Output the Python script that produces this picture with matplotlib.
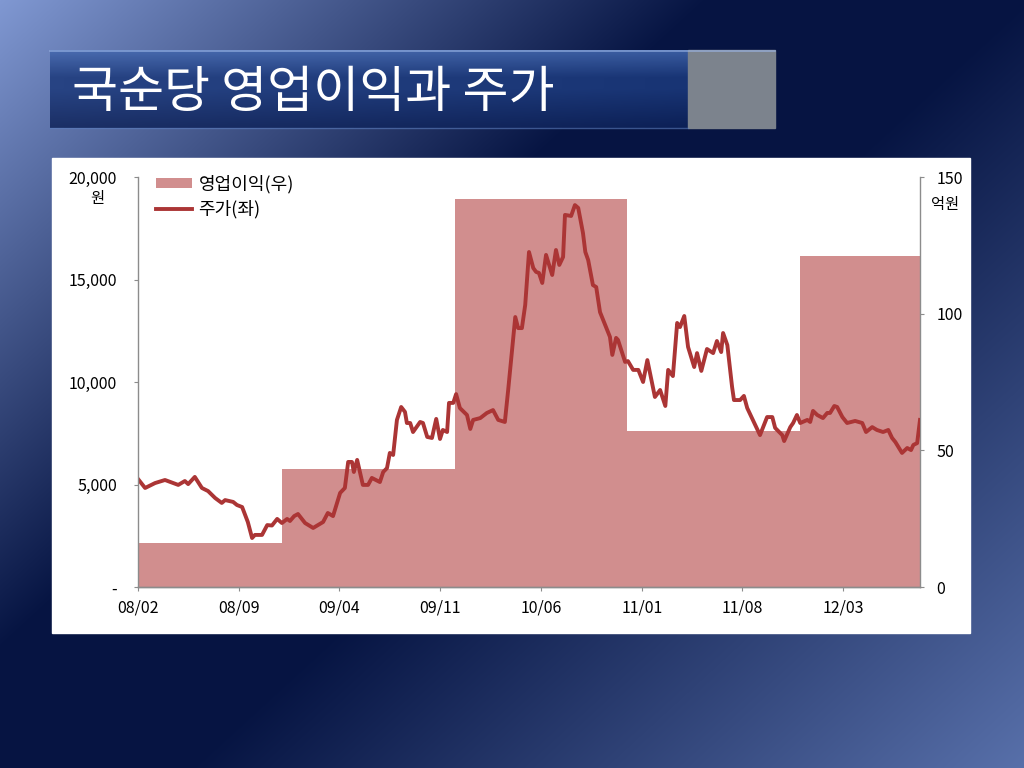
import numpy as np
import pandas as pd
import matplotlib
matplotlib.use('Agg')
import matplotlib.pyplot as plt
from matplotlib.patches import Rectangle, Patch
from matplotlib.lines import Line2D
from matplotlib.ticker import FuncFormatter, FixedLocator

plt.rcParams['font.family'] = ['Noto Sans CJK KR', 'DejaVu Sans']

# ---------------- data ----------------
title = '국순당 영업이익과 주가'

price_dates = [
    '2008-02-01', '2008-02-16', '2008-03-08', '2008-03-29', '2008-04-26', '2008-05-10', '2008-05-17',
    '2008-05-31', '2008-06-15', '2008-06-28', '2008-07-13', '2008-07-27', '2008-08-03', '2008-08-20',
    '2008-08-28', '2008-09-08', '2008-09-20', '2008-09-29', '2008-10-05', '2008-10-20', '2008-10-31',
    '2008-11-10', '2008-11-21', '2008-12-01', '2008-12-12', '2008-12-18', '2008-12-27', '2009-01-04',
    '2009-01-19', '2009-02-05', '2009-02-26', '2009-03-08', '2009-03-19', '2009-04-03', '2009-04-13',
    '2009-04-20', '2009-04-28', '2009-05-02', '2009-05-09', '2009-05-21', '2009-06-01', '2009-06-09',
    '2009-06-26', '2009-07-03', '2009-07-11', '2009-07-17', '2009-07-24', '2009-08-01', '2009-08-10',
    '2009-08-18', '2009-08-22', '2009-08-29', '2009-09-04', '2009-09-19', '2009-09-25', '2009-10-04',
    '2009-10-14', '2009-10-23', '2009-10-31', '2009-11-06', '2009-11-15', '2009-11-19', '2009-11-28',
    '2009-12-04', '2009-12-12', '2009-12-27', '2010-01-03', '2010-01-09', '2010-01-24', '2010-02-07',
    '2010-02-20', '2010-03-03', '2010-03-17', '2010-03-24', '2010-04-08', '2010-04-14', '2010-04-22',
    '2010-04-29', '2010-05-07', '2010-05-16', '2010-05-22', '2010-05-28', '2010-06-04', '2010-06-12',
    '2010-06-25', '2010-07-03', '2010-07-10', '2010-07-18', '2010-07-22', '2010-08-04', '2010-08-12',
    '2010-08-19', '2010-08-29', '2010-09-03', '2010-09-09', '2010-09-19', '2010-09-26', '2010-10-04',
    '2010-10-19', '2010-10-25', '2010-10-30', '2010-11-07', '2010-11-11', '2010-11-26', '2010-12-02',
    '2010-12-13', '2010-12-24', '2011-01-03', '2011-01-12', '2011-01-28', '2011-02-08', '2011-02-19',
    '2011-02-25', '2011-03-07', '2011-03-16', '2011-03-22', '2011-03-31', '2011-04-08', '2011-04-21',
    '2011-04-27', '2011-05-06', '2011-05-18', '2011-05-31', '2011-06-08', '2011-06-17', '2011-06-21',
    '2011-06-30', '2011-07-10', '2011-07-14', '2011-07-27', '2011-08-04', '2011-08-11', '2011-08-21',
    '2011-09-07', '2011-09-22', '2011-10-03', '2011-10-09', '2011-10-24', '2011-10-28', '2011-11-10',
    '2011-11-16', '2011-11-24', '2011-12-01', '2011-12-16', '2011-12-22', '2011-12-28', '2012-01-06',
    '2012-01-18', '2012-01-27', '2012-02-02', '2012-02-11', '2012-02-17', '2012-02-28', '2012-03-09',
    '2012-03-26', '2012-04-10', '2012-04-18', '2012-05-01', '2012-05-11', '2012-05-24', '2012-06-04',
    '2012-06-12', '2012-06-19', '2012-07-03', '2012-07-14', '2012-07-22', '2012-07-27', '2012-08-04',
    '2012-08-10',
]
price_values = [
    5270, 4830, 5070, 5220, 4980, 5170, 5020,
    5370, 4830, 4680, 4340, 4100, 4240, 4150,
    4000, 3900, 3170, 2390, 2540, 2540, 3020,
    3000, 3320, 3120, 3320, 3220, 3460, 3560,
    3120, 2880, 3170, 3610, 3460, 4590, 4830,
    6100, 6100, 5610, 6200, 4980, 4980, 5320,
    5120, 5610, 5800, 6540, 6440, 8150, 8780,
    8540, 8000, 8000, 7560, 8050, 8000, 7320,
    7270, 8200, 7220, 7660, 7560, 8980, 8980,
    9410, 8730, 8390, 7710, 8150, 8240, 8490,
    8630, 8150, 8050, 9610, 13170, 12630, 12630,
    13760, 16340, 15560, 15370, 15320, 14830, 16200,
    15220, 16440, 15710, 16100, 18150, 18100, 18630,
    18490, 17270, 16340, 15950, 14730, 14630, 13410,
    12540, 12200, 11320, 12150, 12050, 10980, 11020,
    10590, 10590, 10000, 11070, 9270, 9610, 8830,
    10590, 10290, 12880, 12680, 13220, 11710, 10730,
    11410, 10540, 11610, 11410, 12000, 11460, 12390,
    11800, 9760, 9120, 9120, 9320, 8730, 8240,
    7410, 8290, 8290, 7760, 7410, 7120, 7800,
    8000, 8390, 8000, 8150, 8050, 8590, 8390,
    8240, 8490, 8490, 8830, 8780, 8290, 8000,
    8100, 8000, 7560, 7800, 7660, 7560, 7660,
    7270, 7070, 6540, 6780, 6680, 6930, 7020,
    8150,
]

profit_starts = ['2008-02-01', '2008-12-01', '2009-12-01', '2010-12-01', '2011-12-01']
profit_values = [16, 43, 142, 57, 121]
period_end = '2012-08-10'

tick_dates = ['2008-02-01', '2008-09-01', '2009-04-01', '2009-11-01',
              '2010-06-01', '2011-01-01', '2011-08-01', '2012-03-01']
tick_labels = ['08/02', '08/09', '09/04', '09/11', '10/06', '11/01', '11/08', '12/03']

left_ticks = [0, 5000, 10000, 15000, 20000]
right_ticks = [0, 50, 100, 150]

# ---------------- figure ----------------
W, H = 1024, 768
fig = plt.figure(figsize=(W / 100, H / 100), dpi=100)

# background slide
bg = fig.add_axes([0, 0, 1, 1], zorder=-5)
bg.set_xlim(0, W)
bg.set_ylim(H, 0)
bg.axis('off')
yy, xx = np.mgrid[0:H, 0:W]
t = (xx / W * 0.55 + yy / H * 0.45)
light_tl = np.array([128, 152, 210]) / 255
dark = np.array([6, 20, 66]) / 255
light_br = np.array([88, 112, 170]) / 255
a = np.clip(t / 0.38, 0, 1)[..., None]
b = np.clip((t - 0.55) / 0.45, 0, 1)[..., None]
img = light_tl * (1 - a) + dark * a
img = img * (1 - b) + light_br * b
bg.imshow(img, extent=(0, W, H, 0), aspect='auto', zorder=0)

# title bar
gy = np.linspace(0, 1, 64)[:, None]
gx = np.linspace(0, 1, 256)[None, :]
top_c = np.array([58, 92, 160]) / 255
mid_c = np.array([24, 52, 116]) / 255
bot_c = np.array([12, 32, 86]) / 255
vert = np.where(gy < 0.35, 1 - gy / 0.35, 0)[..., None]
bottom = np.clip((gy - 0.5) / 0.5, 0, 1)[..., None]
bar_img = mid_c * (1 - vert) + top_c * vert
bar_img = bar_img * (1 - bottom) + bot_c * bottom
bar_img = bar_img + (0.06 * (1 - gx))[..., None] * np.ones(3)
bar_img = np.clip(bar_img * np.ones((64, 256, 3)), 0, 1)
bg.imshow(bar_img, extent=(50, 688, 128, 50), aspect='auto', zorder=1)
bg.add_patch(Rectangle((688, 50), 87, 78, color='#7c838d', zorder=2))
bg.plot([50, 775], [51, 51], color='#9bb6e6', lw=1.2, alpha=0.7, zorder=3)
bg.plot([50, 688], [127.5, 127.5], color='#5d7fc0', lw=1, alpha=0.6, zorder=3)
bg.text(72, 93, title, color='white', fontsize=36, fontweight='light',
        va='center', ha='left', zorder=4)

# white panel
bg.add_patch(Rectangle((52, 158), 918, 475, color='white', zorder=2))
bg.text(97, 199, '원', fontsize=11, ha='center', va='center', color='black', zorder=4)
bg.text(945, 205, '억원', fontsize=11, ha='center', va='center', color='black', zorder=4)

# main axes
ax_l = 138 / W
ax_r = 920 / W
ax_b = 1 - 587 / H
ax_t = 1 - 177 / H
ax = fig.add_axes([ax_l, ax_b, ax_r - ax_l, ax_t - ax_b])
ax2 = ax.twinx()
ax.set_zorder(ax2.get_zorder() + 1)
ax.patch.set_visible(False)
ax2.patch.set_visible(False)

fill_color = '#d18e8e'
line_color = '#ab3535'

px = pd.to_datetime(profit_starts + [period_end])
py = profit_values + [profit_values[-1]]
ax2.fill_between(px, py, step='post', color=fill_color, linewidth=0)

ax.plot(pd.to_datetime(price_dates), price_values, color=line_color, lw=2.8, solid_joinstyle='round')

x0 = pd.Timestamp(profit_starts[0])
x1 = pd.Timestamp(period_end)
ax.set_xlim(x0, x1)
ax.set_ylim(0, 20000)
ax2.set_ylim(0, 150)

ax.xaxis.set_major_locator(FixedLocator([matplotlib.dates.date2num(pd.Timestamp(d)) for d in tick_dates]))
ax.set_xticklabels(tick_labels)
ax.set_yticks(left_ticks)
ax.yaxis.set_major_formatter(FuncFormatter(lambda v, p: '-' if v == 0 else f'{v:,.0f}'))
ax2.set_yticks(right_ticks)

for a_ in (ax, ax2):
    for s in a_.spines.values():
        s.set_color('#8c8c8c')
        s.set_linewidth(1.0)
    a_.spines['top'].set_visible(False)
ax2.spines['left'].set_visible(False)
ax.spines['right'].set_visible(False)

ax.tick_params(axis='y', direction='out', length=3, color='#8c8c8c', labelsize=11.5, pad=12)
ax.tick_params(axis='x', direction='out', length=3, color='#8c8c8c', labelsize=11.5, pad=6)
ax2.tick_params(axis='y', direction='out', length=3, color='#8c8c8c', labelsize=11.5, pad=9)

handles = [Patch(facecolor=fill_color, edgecolor='none'),
           Line2D([0], [0], color=line_color, lw=2.8)]
ax.legend(handles, ['영업이익(우)', '주가(좌)'], loc='upper left',
          bbox_to_anchor=((156 - 138) / 782, (587 - 175) / 410),
          frameon=False, fontsize=13, handlelength=2.0, handleheight=0.45,
          handletextpad=0.35, labelspacing=0.35, borderpad=0, borderaxespad=0)

fig.savefig('out.png', dpi=100)
